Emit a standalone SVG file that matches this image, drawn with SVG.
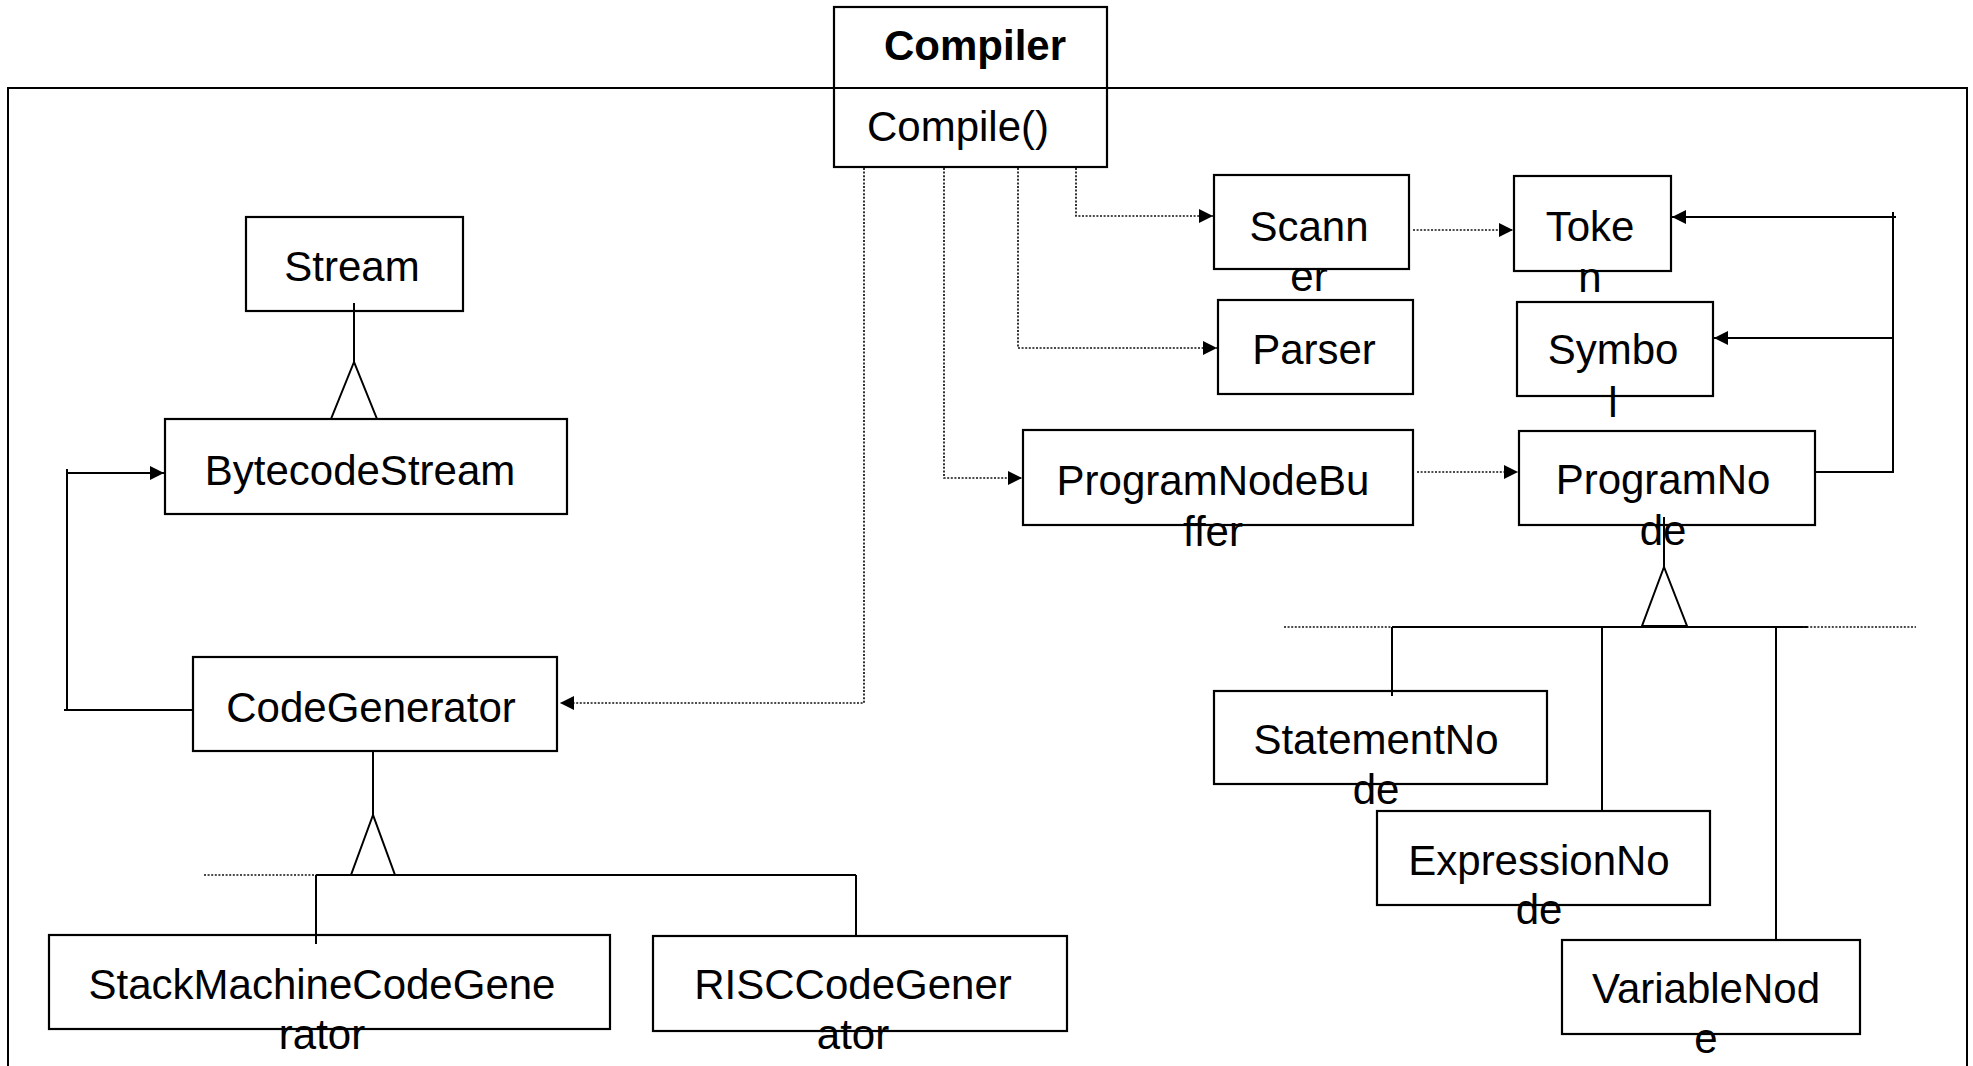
<svg xmlns="http://www.w3.org/2000/svg" width="1973" height="1066" viewBox="0 0 1973 1066">
<style>
.box{fill:#fff;stroke:#000;stroke-width:2.2}
.t{font-family:"Liberation Sans",Arial,sans-serif;font-size:42px;fill:#000;text-anchor:middle}
.b{font-weight:bold}
.s{fill:none;stroke:#000;stroke-width:2}
.d{fill:none;stroke:#111;stroke-width:1.7;stroke-dasharray:2 1.6}
.tri{fill:none;stroke:#000;stroke-width:2}
</style>
<defs>
<marker id="ah" markerUnits="userSpaceOnUse" markerWidth="16" markerHeight="16" refX="14" refY="7" orient="auto">
<path d="M0,0 L14,7 L0,14 Z" fill="#000"/>
</marker>
</defs>
<rect x="0" y="0" width="1973" height="1066" fill="#fff"/>
<g id="frame"><rect x="8" y="88" width="1959" height="1100" fill="none" stroke="#000" stroke-width="2"/></g>

<g id="connectors">
<path class="d" d="M864,168 V703 H560" marker-end="url(#ah)"/>
<path class="d" d="M944,168 V478 H1022" marker-end="url(#ah)"/>
<path class="d" d="M1018,168 V348 H1217" marker-end="url(#ah)"/>
<path class="d" d="M1076,168 V216 H1213" marker-end="url(#ah)"/>
<path class="d" d="M1413,230 H1513" marker-end="url(#ah)"/>
<path class="d" d="M1417,472 H1518" marker-end="url(#ah)"/>
<path class="s" d="M1812,472 H1893 V212"/>
<path class="s" d="M1896,217 H1672" marker-end="url(#ah)"/>
<path class="s" d="M1893,338 H1714" marker-end="url(#ah)"/>
<path class="s" d="M193,710 H64"/>
<path class="s" d="M67,710 V469"/>
<path class="s" d="M67,473 H164" marker-end="url(#ah)"/>
<path class="s" d="M354,303 V362"/>
<polygon class="tri" points="354,362 331,419 377,419"/>
<path class="s" d="M373,751 V815"/>
<polygon class="tri" points="373,815 351,875 395,875"/>
<path class="s" d="M316,875 H856"/>
<path class="d" d="M204,875 H316"/>
<path class="s" d="M316,875 V944"/>
<path class="s" d="M856,875 V937"/>
<path class="s" d="M1664,517 V567"/>
<polygon class="tri" points="1664,567 1642,626 1687,626"/>
<path class="s" d="M1392,627 H1808"/>
<path class="d" d="M1284,627 H1392"/>
<path class="d" d="M1803,627 H1916"/>
<path class="s" d="M1392,627 V696"/>
<path class="s" d="M1602,627 V811"/>
<path class="s" d="M1776,627 V940"/>
</g>

<g id="compiler">
<rect class="box" x="834" y="7" width="273" height="160" fill="none"/>
<line x1="834" y1="88" x2="1107" y2="88" stroke="#000" stroke-width="2"/>
<text class="t b" x="975" y="60">Compiler</text>
<text class="t" x="867" y="141" style="text-anchor:start">Compile()</text>
</g>
<g id="stream"><rect class="box" x="246" y="217" width="217" height="94"/><text class="t" x="352" y="281">Stream</text></g>
<g id="bytecodestream"><rect class="box" x="165" y="419" width="402" height="95"/><text class="t" x="360" y="485">BytecodeStream</text></g>
<g id="codegenerator"><rect class="box" x="193" y="657" width="364" height="94"/><text class="t" x="371" y="722">CodeGenerator</text></g>
<g id="stackmachinecodegenerator"><rect class="box" x="49" y="935" width="561" height="94"/><text class="t" x="322" y="999">StackMachineCodeGene</text><text class="t" x="322" y="1049">rator</text></g>
<g id="risccodegenerator"><rect class="box" x="653" y="936" width="414" height="95"/><text class="t" x="853" y="999">RISCCodeGener</text><text class="t" x="853" y="1049">ator</text></g>
<g id="scanner"><rect class="box" x="1214" y="175" width="195" height="94"/><text class="t" x="1309" y="241">Scann</text><text class="t" x="1309" y="291">er</text></g>
<g id="token"><rect class="box" x="1514" y="176" width="157" height="95"/><text class="t" x="1590" y="241">Toke</text><text class="t" x="1590" y="292">n</text></g>
<g id="parser"><rect class="box" x="1218" y="300" width="195" height="94"/><text class="t" x="1314" y="364">Parser</text></g>
<g id="symbol"><rect class="box" x="1517" y="302" width="196" height="94"/><text class="t" x="1613" y="364">Symbo</text><text class="t" x="1613" y="417">l</text></g>
<g id="programnodebuffer"><rect class="box" x="1023" y="430" width="390" height="95"/><text class="t" x="1213" y="495">ProgramNodeBu</text><text class="t" x="1213" y="546">ffer</text></g>
<g id="programnode"><rect class="box" x="1519" y="431" width="296" height="94"/><text class="t" x="1663" y="494">ProgramNo</text><text class="t" x="1663" y="545">de</text></g>
<g id="statementnode"><rect class="box" x="1214" y="691" width="333" height="93"/><text class="t" x="1376" y="754">StatementNo</text><text class="t" x="1376" y="804">de</text></g>
<g id="expressionnode"><rect class="box" x="1377" y="811" width="333" height="94"/><text class="t" x="1539" y="875">ExpressionNo</text><text class="t" x="1539" y="924">de</text></g>
<g id="variablenode"><rect class="box" x="1562" y="940" width="298" height="94"/><text class="t" x="1706" y="1003">VariableNod</text><text class="t" x="1706" y="1053">e</text></g>
<g id="overlay">
<path class="s" d="M1664,517 V526"/>
<path class="s" d="M1392,684 V696"/>
<path class="s" d="M316,930 V944"/>
<path class="s" d="M354,303 V311"/>
</g>
</svg>
